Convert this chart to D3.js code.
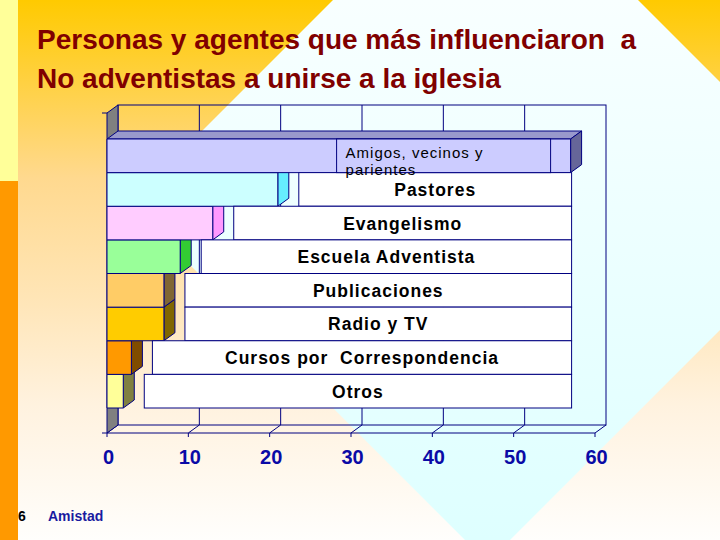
<!DOCTYPE html>
<html>
<head>
<meta charset="utf-8">
<script src="https://cdn.jsdelivr.net/npm/d3@7"></script>
<style>
  body { margin: 0; padding: 0; overflow: hidden; }
  svg { display: block; font-family: "Liberation Sans", Arial, sans-serif; }
</style>
</head>
<body>
<div id="chart"></div>
<script>
// data, top bar first
const categories = ["Amigos, vecinos y parientes", "Pastores", "Evangelismo", "Escuela Adventista",
  "Publicaciones", "Radio y TV", "Cursos por  Correspondencia", "Otros"];
const values = [57, 21, 13, 9, 7, 7, 3, 2];
const amigosLines = ["Amigos, vecinos y", "parientes"];
const xTicks = [0, 10, 20, 30, 40, 50, 60];
const titleLines = ["Personas y agentes que más influenciaron  a", "No adventistas a unirse a la iglesia"];
const strayLabels = ["6", "Amistad"];

// styles
const frontColors = ["#CCCCFF", "#CCFFFF", "#FFCCFF", "#99FF99", "#FFCC66", "#FFCC00", "#FF9900", "#FFFF99"];
const sideColors = ["#666699", "#66EEFF", "#FF99FF", "#33CC33", "#806633", "#806600", "#804C00", "#808040"];
const topColor = "#9999CC";
const navy = "#000080";

const width = 720, height = 540;
const dx = 11, dy = 8;           // 3d depth
const plotTop = 113, plotBottom = 433;

const svg = d3.select("#chart").append("svg")
  .attr("width", width)
  .attr("height", height);

/* background */
const defs = svg.append("defs");
const bgGrad = defs.append("linearGradient").attr("id", "bgGrad")
  .attr("gradientUnits", "userSpaceOnUse")
  .attr("x1", 0).attr("y1", 0).attr("x2", 0).attr("y2", height);
[[0, "#FFCA00"], [0.33, "#FFD98F"], [0.55, "#FFE5B6"], [0.75, "#FFF2DF"], [1, "#FFFEFC"]]
  .forEach(s => bgGrad.append("stop").attr("offset", s[0]).attr("stop-color", s[1]));
const diaGrad = defs.append("linearGradient").attr("id", "diaGrad")
  .attr("gradientUnits", "userSpaceOnUse")
  .attr("x1", 0).attr("y1", 0).attr("x2", 0).attr("y2", height);
[[0, "#F8FFFF"], [1, "#DEFFFF"]]
  .forEach(s => diaGrad.append("stop").attr("offset", s[0]).attr("stop-color", s[1]));

svg.append("rect").attr("width", width).attr("height", height).attr("fill", "url(#bgGrad)");
svg.append("polygon")
  .attr("points", "129,204 485.5,-152.5 844,206 487.5,562.5")
  .attr("fill", "url(#diaGrad)");
svg.append("rect").attr("x", 0).attr("y", 0).attr("width", 18).attr("height", 181).attr("fill", "#FFFF99");
svg.append("rect").attr("x", 0).attr("y", 181).attr("width", 18).attr("height", height - 181).attr("fill", "#FF9900");

/* title */
svg.append("g").selectAll("text")
  .data(titleLines).enter()
  .append("text")
  .attr("x", 37)
  .attr("y", (d, i) => 49 + i * 39)
  .style("white-space", "pre")
  .style("font-size", "28px")
  .style("font-weight", "bold")
  .attr("fill", "#800000")
  .text(d => d);

/* scales */
const x = d3.scaleLinear().domain([0, 60]).range([107, 595]);
const y = d3.scaleBand().domain(categories).range([139, 408]).padding(0);

const frame = svg.append("g")
  .attr("fill", "none")
  .attr("stroke", navy)
  .attr("stroke-width", 1);

// back wall
frame.append("rect")
  .attr("x", x(0) + dx).attr("y", plotTop - dy)
  .attr("width", x(60) - x(0)).attr("height", plotBottom - plotTop);
frame.selectAll(".grid")
  .data(xTicks.slice(1, -1)).enter()
  .append("line")
  .attr("x1", d => x(d) + dx).attr("x2", d => x(d) + dx)
  .attr("y1", plotTop - dy).attr("y2", plotBottom - dy);

// floor
frame.selectAll(".floor")
  .data(xTicks).enter()
  .append("line")
  .attr("x1", d => x(d)).attr("y1", plotBottom)
  .attr("x2", d => x(d) + dx).attr("y2", plotBottom - dy);
frame.append("line")
  .attr("x1", x(0) - 5).attr("x2", x(60))
  .attr("y1", plotBottom).attr("y2", plotBottom);
frame.selectAll(".tick")
  .data(xTicks).enter()
  .append("line")
  .attr("x1", d => x(d)).attr("x2", d => x(d))
  .attr("y1", plotBottom).attr("y2", plotBottom + 4);

// left wall
frame.append("polygon")
  .attr("points", [[x(0), plotTop], [x(0) + dx, plotTop - dy], [x(0) + dx, plotBottom - dy], [x(0), plotBottom]].join(" "))
  .attr("fill", "#808080");
frame.append("line")
  .attr("x1", x(0) - 5).attr("x2", x(0))
  .attr("y1", plotTop).attr("y2", plotTop);

/* bars, drawn bottom to top so the upper bar covers the top face below */
const order = d3.range(categories.length).reverse();
const bars = svg.append("g")
  .attr("stroke", navy)
  .attr("stroke-width", 1)
  .attr("stroke-linejoin", "round");

order.forEach(i => {
  const c = categories[i];
  const x0 = x(0), x1 = x(values[i]);
  const y0 = y(c), y1 = y(c) + y.bandwidth();
  const g = bars.append("g");
  g.append("polygon")
    .attr("points", [[x0, y0], [x0 + dx, y0 - dy], [x1 + dx, y0 - dy], [x1, y0]].join(" "))
    .attr("fill", i == 0 ? topColor : sideColors[i]);
  g.append("polygon")
    .attr("points", [[x1, y0], [x1 + dx, y0 - dy], [x1 + dx, y1 - dy], [x1, y1]].join(" "))
    .attr("fill", sideColors[i]);
  g.append("rect")
    .attr("x", x0).attr("y", y0)
    .attr("width", x1 - x0).attr("height", y1 - y0)
    .attr("fill", frontColors[i]);
});

/* label boxes */
const boxRight = x(values[0]) + 1;
const boxes = svg.append("g");

boxes.selectAll("rect")
  .data(categories.slice(1)).enter()
  .append("rect")
  .attr("x", (d, i) => x(values[i + 1]) + dx + 10)
  .attr("y", d => y(d))
  .attr("width", (d, i) => boxRight - (x(values[i + 1]) + dx + 10))
  .attr("height", y.bandwidth())
  .attr("fill", "#FFFFFF")
  .attr("stroke", navy);

boxes.selectAll("text")
  .data(categories.slice(1)).enter()
  .append("text")
  .attr("x", (d, i) => (x(values[i + 1]) + dx + 10 + boxRight) / 2)
  .attr("y", d => y(d) + y.bandwidth() / 2 + 6.5)
  .attr("text-anchor", "middle")
  .style("white-space", "pre")
  .style("font-size", "17.5px")
  .style("font-weight", "bold")
  .style("letter-spacing", "1px")
  .attr("fill", "#000000")
  .text(d => d);

// first bar carries its label inside
const amigosRight = x(values[0]) - 20;
boxes.append("rect")
  .attr("x", amigosRight - 214).attr("y", y(categories[0]))
  .attr("width", 214).attr("height", y.bandwidth())
  .attr("fill", frontColors[0])
  .attr("stroke", navy);
boxes.selectAll(".amigos")
  .data(amigosLines).enter()
  .append("text")
  .attr("x", amigosRight - 205)
  .attr("y", (d, i) => y(categories[0]) + 19 + i * 17)
  .style("font-size", "15px")
  .style("letter-spacing", "1px")
  .attr("fill", "#000000")
  .text(d => d);

/* x axis labels */
svg.append("g").selectAll("text")
  .data(xTicks).enter()
  .append("text")
  .attr("x", d => x(d) + 1.5)
  .attr("y", 464)
  .attr("text-anchor", "middle")
  .style("font-size", "20px")
  .style("font-weight", "bold")
  .attr("fill", "#0A0AA6")
  .text(d => d);

/* leftover labels at the bottom */
svg.append("text")
  .attr("x", 18).attr("y", 521)
  .style("font-size", "14px").style("font-weight", "bold")
  .attr("fill", "#000000")
  .text(strayLabels[0]);
svg.append("text")
  .attr("x", 48).attr("y", 521)
  .style("font-size", "14px").style("font-weight", "bold")
  .attr("fill", "#1A1AA0")
  .text(strayLabels[1]);
</script>
</body>
</html>
